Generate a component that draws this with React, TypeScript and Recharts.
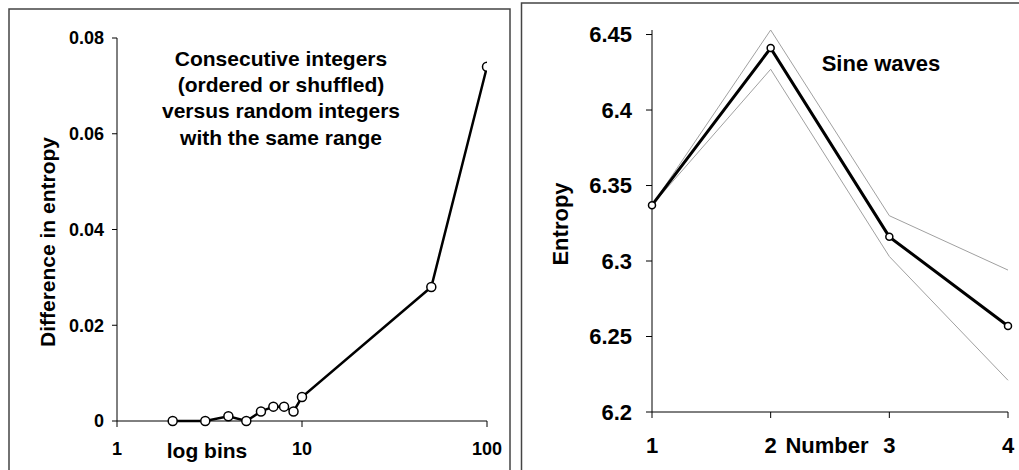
import React from 'react';
import { LineChart, Line, XAxis, YAxis } from 'recharts';

const FONT = '"Liberation Sans", Arial, sans-serif';

// Left panel: log bins vs difference in entropy
const logBins = [2, 3, 4, 5, 6, 7, 8, 9, 10, 50, 100];
const entropyDiff = [0, 0, 0.001, 0, 0.002, 0.003, 0.003, 0.002, 0.005, 0.028, 0.074];
const leftXTicks = [1, 10, 100];
const leftYTicks = [0, 0.02, 0.04, 0.06, 0.08];
const leftTitle = [
  'Consecutive integers',
  '(ordered or shuffled)',
  'versus random integers',
  'with the same range',
];

// Right panel: sine waves
const numbers = [1, 2, 3, 4];
const sineEntropy = [6.337, 6.441, 6.316, 6.257];
const sineUpper = [6.337, 6.453, 6.33, 6.294];
const sineLower = [6.337, 6.427, 6.303, 6.221];
const rightXTicks = [1, 2, 3, 4];
const rightYTicks = [6.2, 6.25, 6.3, 6.35, 6.4, 6.45];

const leftData = logBins.map((b, i) => ({ bins: b, diff: entropyDiff[i] }));
const rightData = numbers.map((n, i) => ({
  n,
  mean: sineEntropy[i],
  upper: sineUpper[i],
  lower: sineLower[i],
}));

export default function App() {
  const leftTick = { fill: '#000', fontSize: 18, fontWeight: 'bold', fontFamily: FONT };
  const rightTick = { fill: '#000', fontSize: 22, fontWeight: 'bold', fontFamily: FONT };
  return (
    <div style={{ position: 'absolute', left: 0, top: 0, width: 1019, height: 470, background: '#fff', overflow: 'hidden' }}>
      <div style={{ position: 'absolute', left: 0, top: 0 }}>
        <LineChart width={520} height={470} data={leftData} margin={{ top: 38, right: 33, left: 0, bottom: 19 }}>
          <XAxis
            dataKey="bins"
            type="number"
            scale="log"
            domain={[1, 100]}
            ticks={leftXTicks}
            allowDataOverflow
            height={30}
            tickSize={6}
            tickMargin={15}
            tick={leftTick}
            axisLine={{ stroke: '#000' }}
            tickLine={{ stroke: '#000' }}
          />
          <YAxis
            type="number"
            domain={[0, 0.08]}
            ticks={leftYTicks}
            width={117}
            tickSize={5}
            tickMargin={8}
            tick={leftTick}
            tickFormatter={(v: number) => String(v)}
            axisLine={{ stroke: '#000' }}
            tickLine={{ stroke: '#000' }}
          />
          <Line
            dataKey="diff"
            stroke="#000"
            strokeWidth={2.5}
            dot={{ r: 4.5, fill: '#fff', stroke: '#000', strokeWidth: 1.5 }}
            isAnimationActive={false}
          />
        </LineChart>
      </div>
      <div style={{ position: 'absolute', left: 520, top: 0 }}>
        <LineChart width={499} height={470} data={rightData} margin={{ top: 30, right: 11, left: 0, bottom: 18 }}>
          <XAxis
            dataKey="n"
            type="number"
            domain={[1, 4]}
            ticks={rightXTicks}
            height={40}
            tickSize={6}
            tickMargin={19}
            tick={rightTick}
            axisLine={{ stroke: '#000' }}
            tickLine={{ stroke: '#000' }}
          />
          <YAxis
            type="number"
            domain={[6.2, 6.45]}
            ticks={rightYTicks}
            width={132}
            tickSize={6}
            tickMargin={14}
            tick={rightTick}
            tickFormatter={(v: number) => String(v)}
            axisLine={{ stroke: '#000' }}
            tickLine={{ stroke: '#000' }}
          />
          <Line dataKey="upper" stroke="#a0a0a0" strokeWidth={1} dot={false} isAnimationActive={false} />
          <Line dataKey="lower" stroke="#a0a0a0" strokeWidth={1} dot={false} isAnimationActive={false} />
          <Line
            dataKey="mean"
            stroke="#000"
            strokeWidth={3}
            dot={{ r: 3.5, fill: '#fff', stroke: '#000', strokeWidth: 1.5 }}
            isAnimationActive={false}
          />
        </LineChart>
      </div>
      <svg
        width={1019}
        height={470}
        style={{ position: 'absolute', left: 0, top: 0, pointerEvents: 'none' }}
        fontFamily={FONT}
      >
        <rect x={9} y={9} width={501} height={480} fill="none" stroke="#444" strokeWidth={1.5} />
        <rect x={521.5} y={3} width={520} height={490} fill="none" stroke="#444" strokeWidth={1.5} />
        {leftTitle.map((line, i) => (
          <text key={line} x={281} y={66 + i * 26.2} textAnchor="middle" fontSize={21} fontWeight="bold" fill="#000">
            {line}
          </text>
        ))}
        <text transform="translate(55,242) rotate(-90)" textAnchor="middle" fontSize={21} fontWeight="bold" fill="#000">
          Difference in entropy
        </text>
        <text x={207} y={458} textAnchor="middle" fontSize={21} fontWeight="bold" fill="#000">
          log bins
        </text>
        <text transform="translate(568,224) rotate(-90)" textAnchor="middle" fontSize={22} fontWeight="bold" fill="#000">
          Entropy
        </text>
        <text x={881} y={71} textAnchor="middle" fontSize={22} fontWeight="bold" fill="#000">
          Sine waves
        </text>
        <text x={827} y={453} textAnchor="middle" fontSize={22} fontWeight="bold" fill="#000">
          Number
        </text>
      </svg>
    </div>
  );
}
